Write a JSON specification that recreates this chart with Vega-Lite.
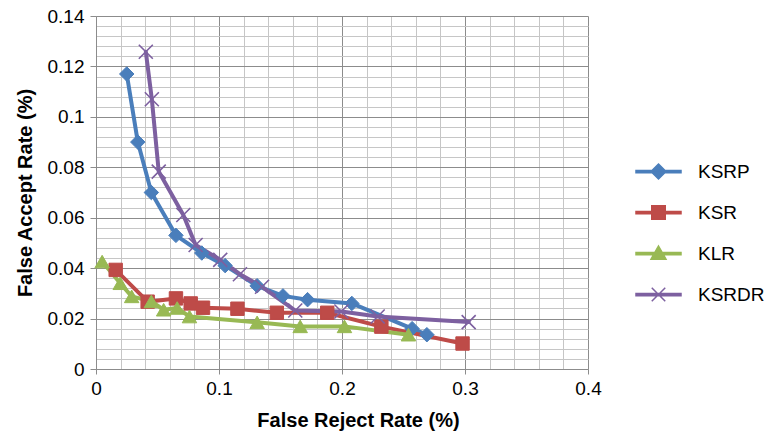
{
  "$schema": "https://vega.github.io/schema/vega-lite/v6.json",
  "autosize": "none",
  "width": 492,
  "height": 353,
  "padding": {"left": 96, "top": 16, "right": 178, "bottom": 66},
  "background": "white",
  "config": {"font": "Liberation Sans", "view": {"stroke": null}},
  "data": {"values": [
    {"series": "KSRP", "frr": 0.025, "far": 0.117},
    {"series": "KSRP", "frr": 0.034, "far": 0.090},
    {"series": "KSRP", "frr": 0.045, "far": 0.070},
    {"series": "KSRP", "frr": 0.065, "far": 0.053},
    {"series": "KSRP", "frr": 0.086, "far": 0.046},
    {"series": "KSRP", "frr": 0.105, "far": 0.041},
    {"series": "KSRP", "frr": 0.131, "far": 0.033},
    {"series": "KSRP", "frr": 0.152, "far": 0.029},
    {"series": "KSRP", "frr": 0.172, "far": 0.0275},
    {"series": "KSRP", "frr": 0.208, "far": 0.026},
    {"series": "KSRP", "frr": 0.257, "far": 0.016},
    {"series": "KSRP", "frr": 0.269, "far": 0.0136},
    {"series": "KSR", "frr": 0.016, "far": 0.0393},
    {"series": "KSR", "frr": 0.042, "far": 0.0267},
    {"series": "KSR", "frr": 0.065, "far": 0.028},
    {"series": "KSR", "frr": 0.077, "far": 0.026},
    {"series": "KSR", "frr": 0.087, "far": 0.0243},
    {"series": "KSR", "frr": 0.115, "far": 0.0239},
    {"series": "KSR", "frr": 0.147, "far": 0.0223},
    {"series": "KSR", "frr": 0.188, "far": 0.0223},
    {"series": "KSR", "frr": 0.232, "far": 0.0168},
    {"series": "KSR", "frr": 0.298, "far": 0.0101},
    {"series": "KLR", "frr": 0.005, "far": 0.0426},
    {"series": "KLR", "frr": 0.0197, "far": 0.034},
    {"series": "KLR", "frr": 0.029, "far": 0.0288},
    {"series": "KLR", "frr": 0.045, "far": 0.0268},
    {"series": "KLR", "frr": 0.055, "far": 0.0235},
    {"series": "KLR", "frr": 0.066, "far": 0.0242},
    {"series": "KLR", "frr": 0.076, "far": 0.0208},
    {"series": "KLR", "frr": 0.131, "far": 0.0185},
    {"series": "KLR", "frr": 0.166, "far": 0.0169},
    {"series": "KLR", "frr": 0.202, "far": 0.0169},
    {"series": "KLR", "frr": 0.254, "far": 0.0136},
    {"series": "KSRDR", "frr": 0.0405, "far": 0.1258},
    {"series": "KSRDR", "frr": 0.0454, "far": 0.107},
    {"series": "KSRDR", "frr": 0.051, "far": 0.0783},
    {"series": "KSRDR", "frr": 0.071, "far": 0.0611},
    {"series": "KSRDR", "frr": 0.081, "far": 0.0492},
    {"series": "KSRDR", "frr": 0.101, "far": 0.0433},
    {"series": "KSRDR", "frr": 0.117, "far": 0.0376},
    {"series": "KSRDR", "frr": 0.135, "far": 0.0326},
    {"series": "KSRDR", "frr": 0.162, "far": 0.0232},
    {"series": "KSRDR", "frr": 0.1995, "far": 0.0228},
    {"series": "KSRDR", "frr": 0.229, "far": 0.0208},
    {"series": "KSRDR", "frr": 0.303, "far": 0.0186}
  ]},
  "encoding": {
    "x": {
      "field": "frr", "type": "quantitative",
      "scale": {"domain": [0, 0.4], "nice": false, "zero": true},
      "axis": {
        "title": "False Reject Rate (%)",
        "values": [0,0.02,0.04,0.06,0.08,0.1,0.12,0.14,0.16,0.18,0.2,0.22,0.24,0.26,0.28,0.3,0.32,0.34,0.36,0.38,0.4],
        "format": "~g",
        "labelExpr": "abs(datum.value*10-round(datum.value*10))<1e-6 ? datum.label : ''",
        "labelOverlap": false,
        "labelFlush": false,
        "labelFontSize": 19,
        "labelColor": "#000000",
        "labelPadding": 5,
        "tickSize": 5,
        "tickColor": "#8c8c8c",
        "tickOpacity": {"condition": {"test": "abs(datum.value*10-round(datum.value*10))<1e-6", "value": 1}, "value": 0},
        "domainColor": "#8c8c8c",
        "grid": true,
        "gridColor": {"condition": {"test": "abs(datum.value*10-round(datum.value*10))<1e-6", "value": "#8c8c8c"}, "value": "#c6c6c6"},
        "gridWidth": 1,
        "titleFontSize": 20,
        "titleFontWeight": "bold",
        "titleColor": "#000000",
        "titlePadding": 12,
        "titleX": 262
      }
    },
    "y": {
      "field": "far", "type": "quantitative",
      "scale": {"domain": [0, 0.14], "nice": false, "zero": true},
      "axis": {
        "title": "False Accept Rate (%)",
        "values": [0,0.004,0.008,0.012,0.016,0.02,0.024,0.028,0.032,0.036,0.04,0.044,0.048,0.052,0.056,0.06,0.064,0.068,0.072,0.076,0.08,0.084,0.088,0.092,0.096,0.1,0.104,0.108,0.112,0.116,0.12,0.124,0.128,0.132,0.136,0.14],
        "format": "~g",
        "labelExpr": "abs(datum.value*50-round(datum.value*50))<1e-6 ? datum.label : ''",
        "labelOverlap": false,
        "labelFlush": false,
        "labelFontSize": 19,
        "labelColor": "#000000",
        "labelPadding": 6,
        "tickSize": 6,
        "tickColor": "#8c8c8c",
        "tickOpacity": {"condition": {"test": "abs(datum.value*50-round(datum.value*50))<1e-6", "value": 1}, "value": 0},
        "domainColor": "#8c8c8c",
        "grid": true,
        "gridColor": {"condition": {"test": "abs(datum.value*50-round(datum.value*50))<1e-6", "value": "#8c8c8c"}, "value": "#c6c6c6"},
        "gridWidth": 1,
        "titleFontSize": 20,
        "titleFontWeight": "bold",
        "titleColor": "#000000",
        "titlePadding": 12
      }
    }
  },
  "layer": [
    {
      "mark": {"type": "line", "strokeWidth": 4, "strokeJoin": "round", "strokeCap": "round"},
      "encoding": {
        "color": {"field": "series", "type": "nominal",
          "scale": {"domain": ["KSRP", "KSR", "KLR", "KSRDR"], "range": ["#4A7EBB", "#BE4B48", "#98B954", "#7D60A0"]},
          "legend": {
            "title": null,
            "orient": "none",
            "legendX": 553,
            "legendY": 146,
            "labelFontSize": 19,
            "labelColor": "#000000",
            "labelOffset": 30,
            "rowPadding": 20,
            "symbolSize": 225,
            "encode": {
              "symbols": {
                "update": {
                  "shape": {"signal": "datum.value==='KSRP' ? 'M-3,-0.15L3,-0.15L3,0.15L-3,0.15ZM0,-1L1,0L0,1L-1,0Z' : datum.value==='KSR' ? 'M-3,-0.15L3,-0.15L3,0.15L-3,0.15ZM-0.9,-0.9L0.9,-0.9L0.9,0.9L-0.9,0.9Z' : datum.value==='KLR' ? 'M-3,-0.15L3,-0.15L3,0.15L-3,0.15ZM0,-1L1,0.75L-1,0.75Z' : 'M-3,-0.15L3,-0.15L3,0.15L-3,0.15ZM-0.9,-0.9L0.9,0.9M-0.9,0.9L0.9,-0.9'"},
                  "fill": {"signal": "scale('color', datum.value)"},
                  "stroke": {"signal": "scale('color', datum.value)"},
                  "strokeWidth": {"value": 1.5},
                  "opacity": {"value": 1},
                  "fillOpacity": {"value": 1},
                  "strokeOpacity": {"value": 1}
                }
              }
            }
          }
        }
      }
    },
    {
      "transform": [{"filter": "datum.series === 'KSRP'"}],
      "mark": {"type": "point", "shape": "diamond", "filled": true, "opacity": 1, "size": 210, "color": "#4A7EBB", "stroke": "#4A7EBB", "strokeWidth": 1}
    },
    {
      "transform": [{"filter": "datum.series === 'KSR'"}],
      "mark": {"type": "point", "shape": "square", "filled": true, "opacity": 1, "size": 180, "color": "#BE4B48", "stroke": "#BE4B48", "strokeWidth": 1}
    },
    {
      "transform": [{"filter": "datum.series === 'KLR'"}],
      "mark": {"type": "point", "shape": "triangle-up", "filled": true, "opacity": 1, "size": 210, "color": "#98B954", "stroke": "#98B954", "strokeWidth": 1}
    },
    {
      "transform": [{"filter": "datum.series === 'KSRDR'"}],
      "mark": {"type": "point", "shape": "M-1,-1L1,1M-1,1L1,-1", "filled": false, "opacity": 1, "size": 196, "stroke": "#7D60A0", "strokeWidth": 1.6}
    }
  ]
}
